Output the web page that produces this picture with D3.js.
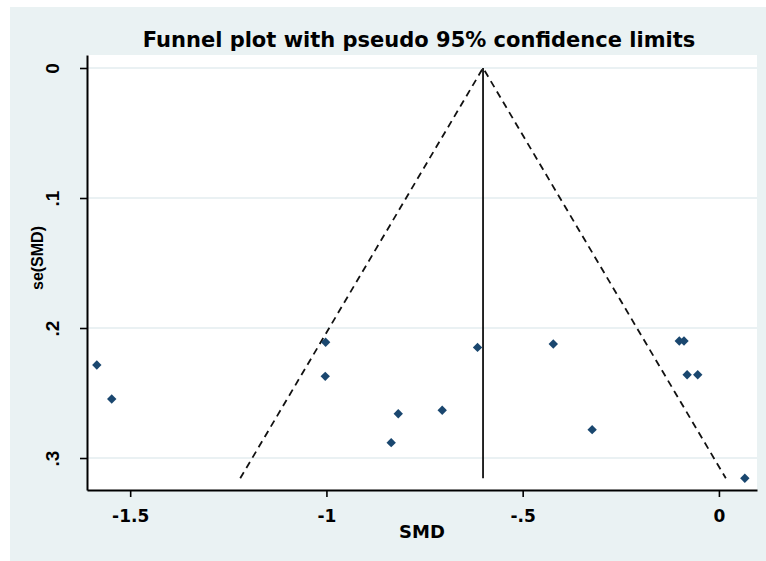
<!DOCTYPE html>
<html>
<head>
<meta charset="utf-8">
<script src="https://cdn.jsdelivr.net/npm/d3@7"></script>
<style>
  body { margin: 0; background: #fff; }
  svg { display: block; }
</style>
</head>
<body>
<svg width="766" height="561"></svg>
<script>
// study estimates
const smd = [-1.585, -1.547, -1.002, -1.003, -0.817, -0.705, -0.835, -0.615, -0.422, -0.323, -0.101, -0.089, -0.081, -0.054, 0.066];
const seSmd = [0.2285, 0.2546, 0.211, 0.2372, 0.2659, 0.2633, 0.2882, 0.2149, 0.2123, 0.2782, 0.21, 0.21, 0.236, 0.236, 0.3156];

const pooled = -0.601;
const seMax = 0.3156;

const xTicks = [-1.5, -1, -0.5, 0];
const xTickLabels = ['-1.5', '-1', '-.5', '0'];
const yTicks = [0, 0.1, 0.2, 0.3];
const yTickLabels = ['0', '.1', '.2', '.3'];

const width = 766;
const height = 561;
const plot = { left: 87, right: 757, top: 55, bottom: 490 };
const svg = d3.select('svg');

svg.append('rect')
  .attr('x', 10).attr('y', 7)
  .attr('width', width - 10).attr('height', height - 7)
  .attr('fill', '#eaf2f3');

svg.append('rect')
  .attr('x', plot.left).attr('y', plot.top)
  .attr('width', plot.right - plot.left).attr('height', plot.bottom - plot.top)
  .attr('fill', '#fff');

const x = d3.scaleLinear().domain([-1.61, 0.097]).range([plot.left, plot.right]);
const y = d3.scaleLinear().domain([-0.01, 0.3246]).range([plot.top, plot.bottom]);

// gridlines
svg.append('g')
  .selectAll('line')
  .data(yTicks)
  .enter()
  .append('line')
  .attr('x1', plot.left).attr('x2', plot.right)
  .attr('y1', d => y(d)).attr('y2', d => y(d))
  .attr('stroke', '#e3ecef')
  .attr('stroke-width', 1.5);

// pseudo 95% limits
const funnel = [
  [pooled - 1.96 * seMax, seMax],
  [pooled, 0],
  [pooled + 1.96 * seMax, seMax]
];
svg.append('path')
  .datum(funnel)
  .attr('d', d3.line().x(d => x(d[0])).y(d => y(d[1])))
  .attr('fill', 'none')
  .attr('stroke', '#111')
  .attr('stroke-width', 1.8)
  .attr('stroke-dasharray', '7,5');

svg.append('line')
  .attr('x1', x(pooled)).attr('x2', x(pooled))
  .attr('y1', y(0)).attr('y2', y(seMax))
  .attr('stroke', '#111')
  .attr('stroke-width', 1.8);

// points
svg.append('g')
  .selectAll('path')
  .data(smd)
  .enter()
  .append('path')
  .attr('d', d3.symbol(d3.symbolSquare, 44))
  .attr('transform', (d, i) => `translate(${x(d)},${y(seSmd[i])}) rotate(45)`)
  .attr('fill', '#1a476f');

// axes
const xAxis = svg.append('g')
  .attr('transform', `translate(0,${plot.bottom})`)
  .call(d3.axisBottom(x)
    .tickValues(xTicks)
    .tickFormat((d, i) => xTickLabels[i])
    .tickSize(7)
    .tickSizeOuter(0));

const yAxis = svg.append('g')
  .attr('transform', `translate(${plot.left},0)`)
  .call(d3.axisLeft(y)
    .tickValues(yTicks)
    .tickFormat((d, i) => yTickLabels[i])
    .tickSize(7)
    .tickSizeOuter(0));

[xAxis, yAxis].forEach(g => {
  g.select('.domain').attr('stroke', '#000').attr('stroke-width', 2);
  g.selectAll('.tick line').attr('stroke', '#000').attr('stroke-width', 1.6);
});

xAxis.selectAll('text')
  .attr('fill', '#000')
  .attr('dy', 0)
  .attr('y', 32)
  .style('font-family', '"DejaVu Sans", sans-serif')
  .style('font-weight', 'bold')
  .style('font-size', '17px');

yAxis.selectAll('text')
  .attr('fill', '#000')
  .attr('transform', 'rotate(-90)')
  .attr('x', 0)
  .attr('y', -28)
  .attr('dy', 0)
  .style('text-anchor', 'middle')
  .style('font-family', '"Liberation Sans", Arial, sans-serif')
  .style('font-weight', 'bold')
  .style('font-size', '19px');

// titles
svg.append('text')
  .attr('x', (plot.left + plot.right) / 2 - 3)
  .attr('y', 47)
  .style('text-anchor', 'middle')
  .style('font-family', '"DejaVu Sans", sans-serif')
  .style('font-weight', 'bold')
  .style('font-size', '21px')
  .text('Funnel plot with pseudo 95% confidence limits');

svg.append('text')
  .attr('x', (plot.left + plot.right) / 2)
  .attr('y', 538)
  .style('text-anchor', 'middle')
  .style('font-family', '"DejaVu Sans", sans-serif')
  .style('font-weight', 'bold')
  .style('font-size', '18px')
  .text('SMD');

svg.append('text')
  .attr('transform', 'translate(43,258) rotate(-90)')
  .style('text-anchor', 'middle')
  .style('font-family', '"Liberation Sans", Arial, sans-serif')
  .style('font-weight', 'bold')
  .style('font-size', '16px')
  .text('se(SMD)');
</script>
</body>
</html>
